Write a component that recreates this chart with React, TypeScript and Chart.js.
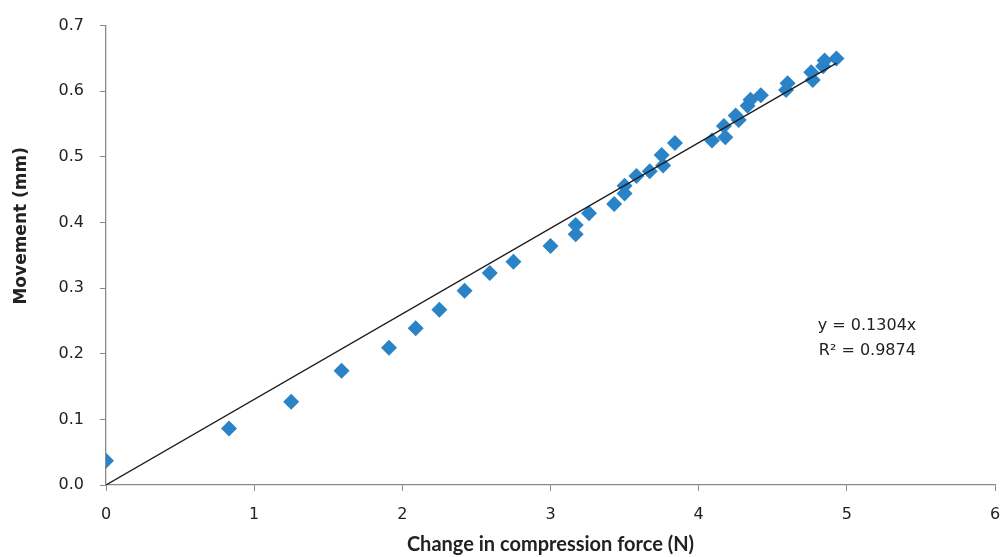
import React, { useEffect, useRef } from "react";
import { Chart, registerables } from "chart.js";

Chart.register(...registerables);

const forceN: number[] = [
  0, 0.83, 1.25, 1.59, 1.91, 2.09, 2.25, 2.42, 2.59, 2.75, 3.0, 3.17, 3.17, 3.26,
  3.43, 3.5, 3.5, 3.58, 3.67, 3.76, 3.75, 3.84, 4.09, 4.18, 4.17, 4.25, 4.27,
  4.33, 4.35, 4.42, 4.59, 4.6, 4.77, 4.76, 4.84, 4.85, 4.93,
];
const movementMm: number[] = [
  0.037, 0.086, 0.127, 0.174, 0.209, 0.239, 0.267, 0.296, 0.323, 0.34, 0.364,
  0.382, 0.396, 0.414, 0.428, 0.444, 0.456, 0.471, 0.478, 0.487, 0.503, 0.521,
  0.525, 0.53, 0.547, 0.563, 0.556, 0.578, 0.587, 0.594, 0.602, 0.612, 0.617,
  0.629, 0.638, 0.647, 0.65,
];
const trendSlope = 0.1304;
const trendR2 = 0.9874;
const trendX: number[] = [0, 4.93];
const xTitle = "Change in compression force (N)";
const yTitle = "Movement (mm)";

export default function App() {
  const ref = useRef<HTMLCanvasElement | null>(null);
  useEffect(() => {
    if (!ref.current) return;
    const textPlugin = {
      id: "extraText",
      afterDraw(chart: any) {
        const ctx = chart.ctx;
        const xs = chart.scales.x;
        const ys = chart.scales.y;
        ctx.save();
        ctx.fillStyle = "#222";
        ctx.font = "16px 'DejaVu Sans'";
        ctx.textBaseline = "middle";
        ctx.textAlign = "left";
        const x0 = xs.getPixelForValue(4.75);
        ctx.fillText("y = " + trendSlope.toFixed(4) + "x", x0 + 8, ys.getPixelForValue(0.243));
        ctx.fillText("R² = " + trendR2.toFixed(4), x0 + 9, ys.getPixelForValue(0.205));
        // y axis title
        ctx.translate(22, ys.getPixelForValue(0.395));
        ctx.rotate(-Math.PI / 2);
        ctx.textAlign = "center";
        ctx.font = "bold 17px 'DejaVu Sans'";
        ctx.fillText(yTitle, 0, 0);
        ctx.restore();
      },
    };
    const chart = new Chart(ref.current, {
      type: "scatter",
      data: {
        datasets: [
          {
            type: "line",
            data: trendX.map((x) => ({ x, y: trendSlope * x })),
            borderColor: "#1a1a1a",
            borderWidth: 1.3,
            pointRadius: 0,
            fill: false,
            order: 0,
          } as any,
          {
            data: forceN.map((x, i) => ({ x, y: movementMm[i] })),
            pointStyle: "rectRot",
            pointRadius: 8,
            pointBackgroundColor: "#2a83c6",
            pointBorderColor: "#2a83c6",
            pointBorderWidth: 0,
            order: 1,
          },
        ],
      },
      options: {
        animation: false,
        responsive: false,
        maintainAspectRatio: false,
        layout: { padding: { left: 0, right: 4, top: 21, bottom: 0 } },
        plugins: { legend: { display: false }, tooltip: { enabled: false } },
        scales: {
          x: {
            type: "linear",
            min: 0,
            max: 6,
            ticks: {
              stepSize: 1,
              color: "#222",
              font: { family: "'DejaVu Sans'", size: 16 },
              padding: 14,
            },
            grid: { drawOnChartArea: false, drawTicks: true, tickLength: 6, color: "#8a8a8a" },
            border: { color: "#8a8a8a", width: 1.3 },
            title: {
              display: true,
              text: xTitle,
              color: "#222",
              font: { family: "Lato", size: 20, weight: "bold" },
              padding: { top: 3, bottom: 0 },
            },
            afterFit(scale: any) {
              scale.height = 72;
              scale.paddingRight = 0;
              scale.paddingLeft = 0;
            },
          },
          y: {
            type: "linear",
            min: 0,
            max: 0.7,
            ticks: {
              stepSize: 0.1,
              color: "#222",
              font: { family: "'DejaVu Sans'", size: 16 },
              padding: 16,
              callback: (v: any) => Number(v).toFixed(1),
            },
            grid: { drawOnChartArea: false, drawTicks: true, tickLength: 6, color: "#8a8a8a" },
            border: { color: "#8a8a8a", width: 1.3 },
            afterFit(scale: any) {
              scale.width = 106;
            },
          },
        },
      },
      plugins: [textPlugin],
    } as any);
    return () => chart.destroy();
  }, []);
  return (
    <div style={{ position: "absolute", left: 0, top: 0, width: 1003, height: 557, background: "#fff" }}>
      <canvas ref={ref} width={1003} height={557} style={{ width: 1003, height: 557 }} />
    </div>
  );
}
